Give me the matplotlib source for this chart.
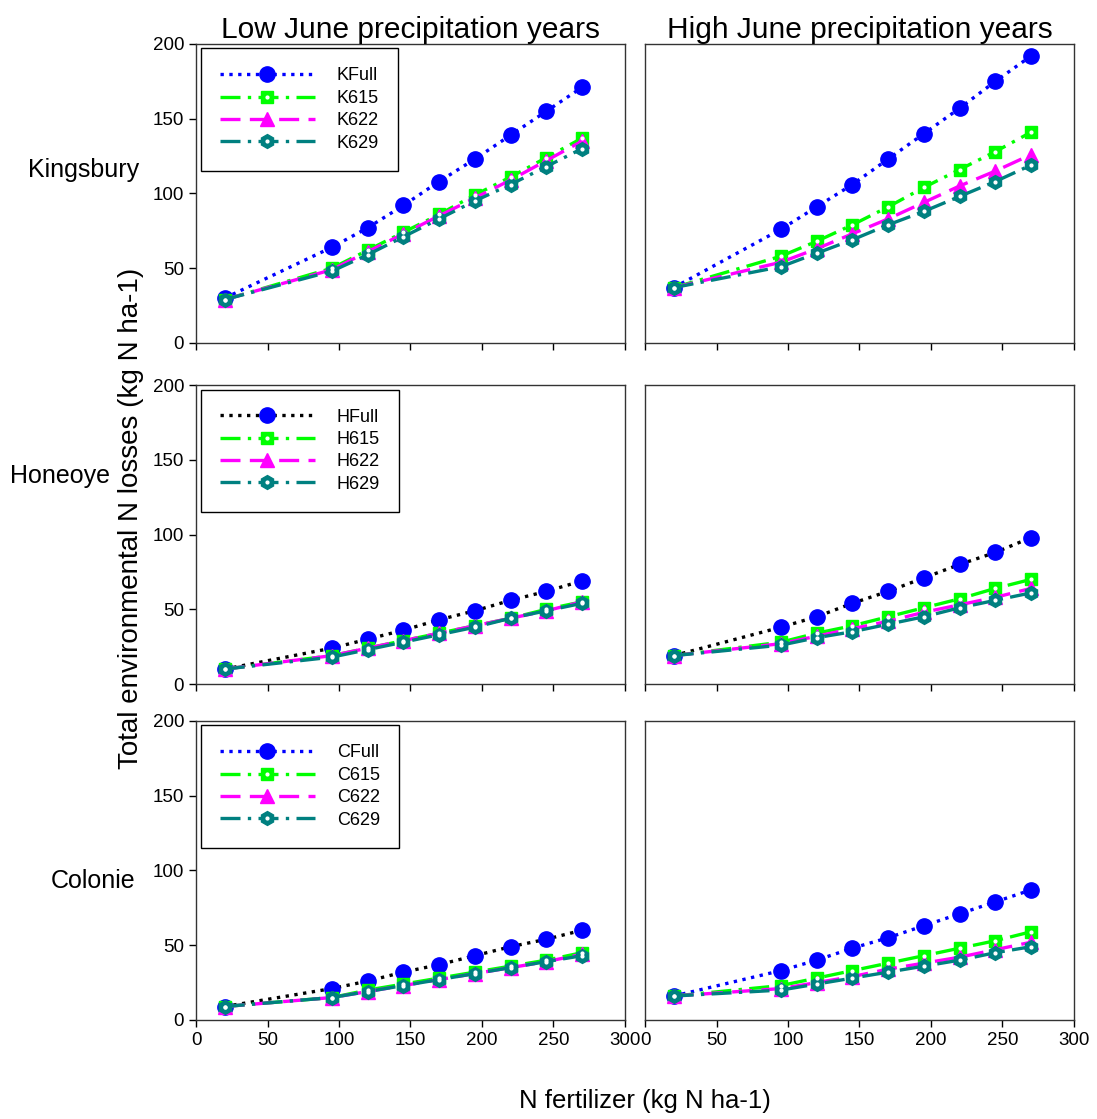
import matplotlib.pyplot as plt
from matplotlib.legend_handler import HandlerTuple

plt.rcParams['font.family'] = ['Liberation Sans', 'DejaVu Sans']

# N fertilizer rates (kg N ha-1)
n_rate = [20, 95, 120, 145, 170, 195, 220, 245, 270]

# Kingsbury
k_low_full = [30, 64, 77, 92, 108, 123, 139, 155, 171]
k_low_615 = [29, 50, 62, 74, 86, 99, 111, 124, 137]
k_low_622 = [29, 49, 61, 73, 85, 97, 109, 122, 135]
k_low_629 = [29, 48, 59, 71, 83, 95, 106, 118, 130]
k_high_full = [37, 76, 91, 106, 123, 140, 157, 175, 192]
k_high_615 = [37, 58, 68, 79, 91, 104, 116, 128, 141]
k_high_622 = [37, 54, 63, 73, 83, 94, 105, 115, 126]
k_high_629 = [37, 51, 60, 69, 79, 88, 98, 108, 119]

# Honeoye
h_low_full = [10, 24, 30, 36, 43, 49, 56, 62, 69]
h_low_615 = [10, 19, 24, 29, 34, 39, 44, 50, 55]
h_low_622 = [10, 19, 24, 29, 34, 39, 44, 49, 55]
h_low_629 = [10, 18, 23, 28, 33, 38, 44, 49, 54]
h_high_full = [19, 38, 45, 54, 62, 71, 80, 88, 98]
h_high_615 = [19, 28, 34, 39, 45, 51, 57, 64, 70]
h_high_622 = [19, 27, 32, 37, 42, 48, 53, 58, 64]
h_high_629 = [19, 26, 31, 35, 40, 45, 51, 56, 61]

# Colonie
c_low_full = [9, 21, 26, 32, 37, 43, 49, 54, 60]
c_low_615 = [9, 15, 20, 24, 28, 32, 36, 40, 45]
c_low_622 = [9, 15, 19, 23, 27, 31, 35, 39, 44]
c_low_629 = [9, 15, 19, 23, 27, 31, 35, 39, 43]
c_high_full = [16, 33, 40, 48, 55, 63, 71, 79, 87]
c_high_615 = [16, 23, 28, 33, 38, 43, 48, 53, 59]
c_high_622 = [16, 21, 25, 29, 34, 38, 42, 47, 52]
c_high_629 = [16, 20, 24, 28, 32, 36, 40, 45, 49]

sites = ['Kingsbury', 'Honeoye', 'Colonie']
prefixes = ['K', 'H', 'C']
scenarios = ['Full', '615', '622', '629']
col_titles = ['Low June precipitation years', 'High June precipitation years']

data = [
    [[k_low_full, k_low_615, k_low_622, k_low_629],
     [k_high_full, k_high_615, k_high_622, k_high_629]],
    [[h_low_full, h_low_615, h_low_622, h_low_629],
     [h_high_full, h_high_615, h_high_622, h_high_629]],
    [[c_low_full, c_low_615, c_low_622, c_low_629],
     [c_high_full, c_high_615, c_high_622, c_high_629]],
]

# colour of the dotted line joining the "Full" points, per panel
full_line = [['blue', 'blue'], ['black', 'black'], ['black', 'blue']]
legend_full = ['blue', 'black', 'blue']

GREEN = '#00ff00'
MAGENTA = '#ff00ff'
TEAL = '#008080'

styles = {
    '615': dict(color=GREEN, dashes=(6, 2.2, 1.0, 2.2), marker='s', ms=9),
    '622': dict(color=MAGENTA, dashes=(6, 2.8), marker='^', ms=10),
    '629': dict(color=TEAL, dashes=(6, 2.2, 1.0, 2.2), marker='h', ms=10),
}

fig = plt.figure(figsize=(10.97, 11.19), dpi=100)

lefts = [0.1787, 0.588]
bottoms = [0.6935, 0.3887, 0.0885]
w, h = 0.391, 0.2672

for r in range(3):
    for c in range(2):
        ax = fig.add_axes([lefts[c], bottoms[r], w, h])
        series = data[r][c]
        handles = []

        ax.plot(n_rate, series[0], linestyle=':', lw=2.4,
                color=full_line[r][c], zorder=2)
        ax.plot(n_rate, series[0], linestyle='none', marker='o', ms=11,
                color='blue', zorder=3)
        leg_full, = ax.plot([], [], linestyle=':', lw=2.4, color=legend_full[r],
                            marker='o', ms=11, mfc='blue', mec='blue')
        handles.append(leg_full)

        for name, vals in zip(scenarios[1:], series[1:]):
            st = styles[name]
            line, = ax.plot(n_rate, vals, lw=2.4, color=st['color'],
                            dashes=st['dashes'], marker=st['marker'],
                            ms=st['ms'], mfc=st['color'], mec=st['color'],
                            zorder=4)
            if name == '622':
                handles.append(line)
            else:
                dot, = ax.plot(n_rate, vals, linestyle='none', marker='o',
                               ms=2.0, color='white', zorder=5)
                handles.append((line, dot))

        ax.set_xlim(0, 300)
        ax.set_ylim(0, 200)
        ax.set_xticks(range(0, 301, 50))
        ax.set_yticks(range(0, 201, 50))
        ax.tick_params(direction='out', length=5, labelsize=13.5, width=1)
        if c == 1:
            ax.tick_params(axis='y', left=False, labelleft=False)
        if r < 2:
            ax.tick_params(axis='x', labelbottom=False)
        for sp in ax.spines.values():
            sp.set_linewidth(1.0)
            sp.set_color('#333333')

        if r == 0:
            ax.set_title(col_titles[c], fontsize=21.5, pad=2.5)

        if c == 0:
            labels = [prefixes[r] + s for s in scenarios]
            ax.legend(handles, labels, loc='upper left', fontsize=13,
                      handlelength=5.3, handletextpad=1.2, labelspacing=0.3,
                      borderpad=1.05, borderaxespad=0.25, fancybox=False,
                      edgecolor='black', framealpha=1,
                      handler_map={tuple: HandlerTuple(ndivide=1, pad=0)})

fig.text(0.076, 0.848, 'Kingsbury', fontsize=18, ha='center', va='center')
fig.text(0.055, 0.575, 'Honeoye', fontsize=18, ha='center', va='center')
fig.text(0.085, 0.213, 'Colonie', fontsize=18, ha='center', va='center')

fig.text(0.119, 0.537, 'Total environmental N losses (kg N ha-1)', fontsize=20,
         rotation=90, ha='center', va='center')
fig.text(0.588, 0.016, 'N fertilizer (kg N ha-1)', fontsize=18.5,
         ha='center', va='center')

fig.savefig('out.png', dpi=100)
